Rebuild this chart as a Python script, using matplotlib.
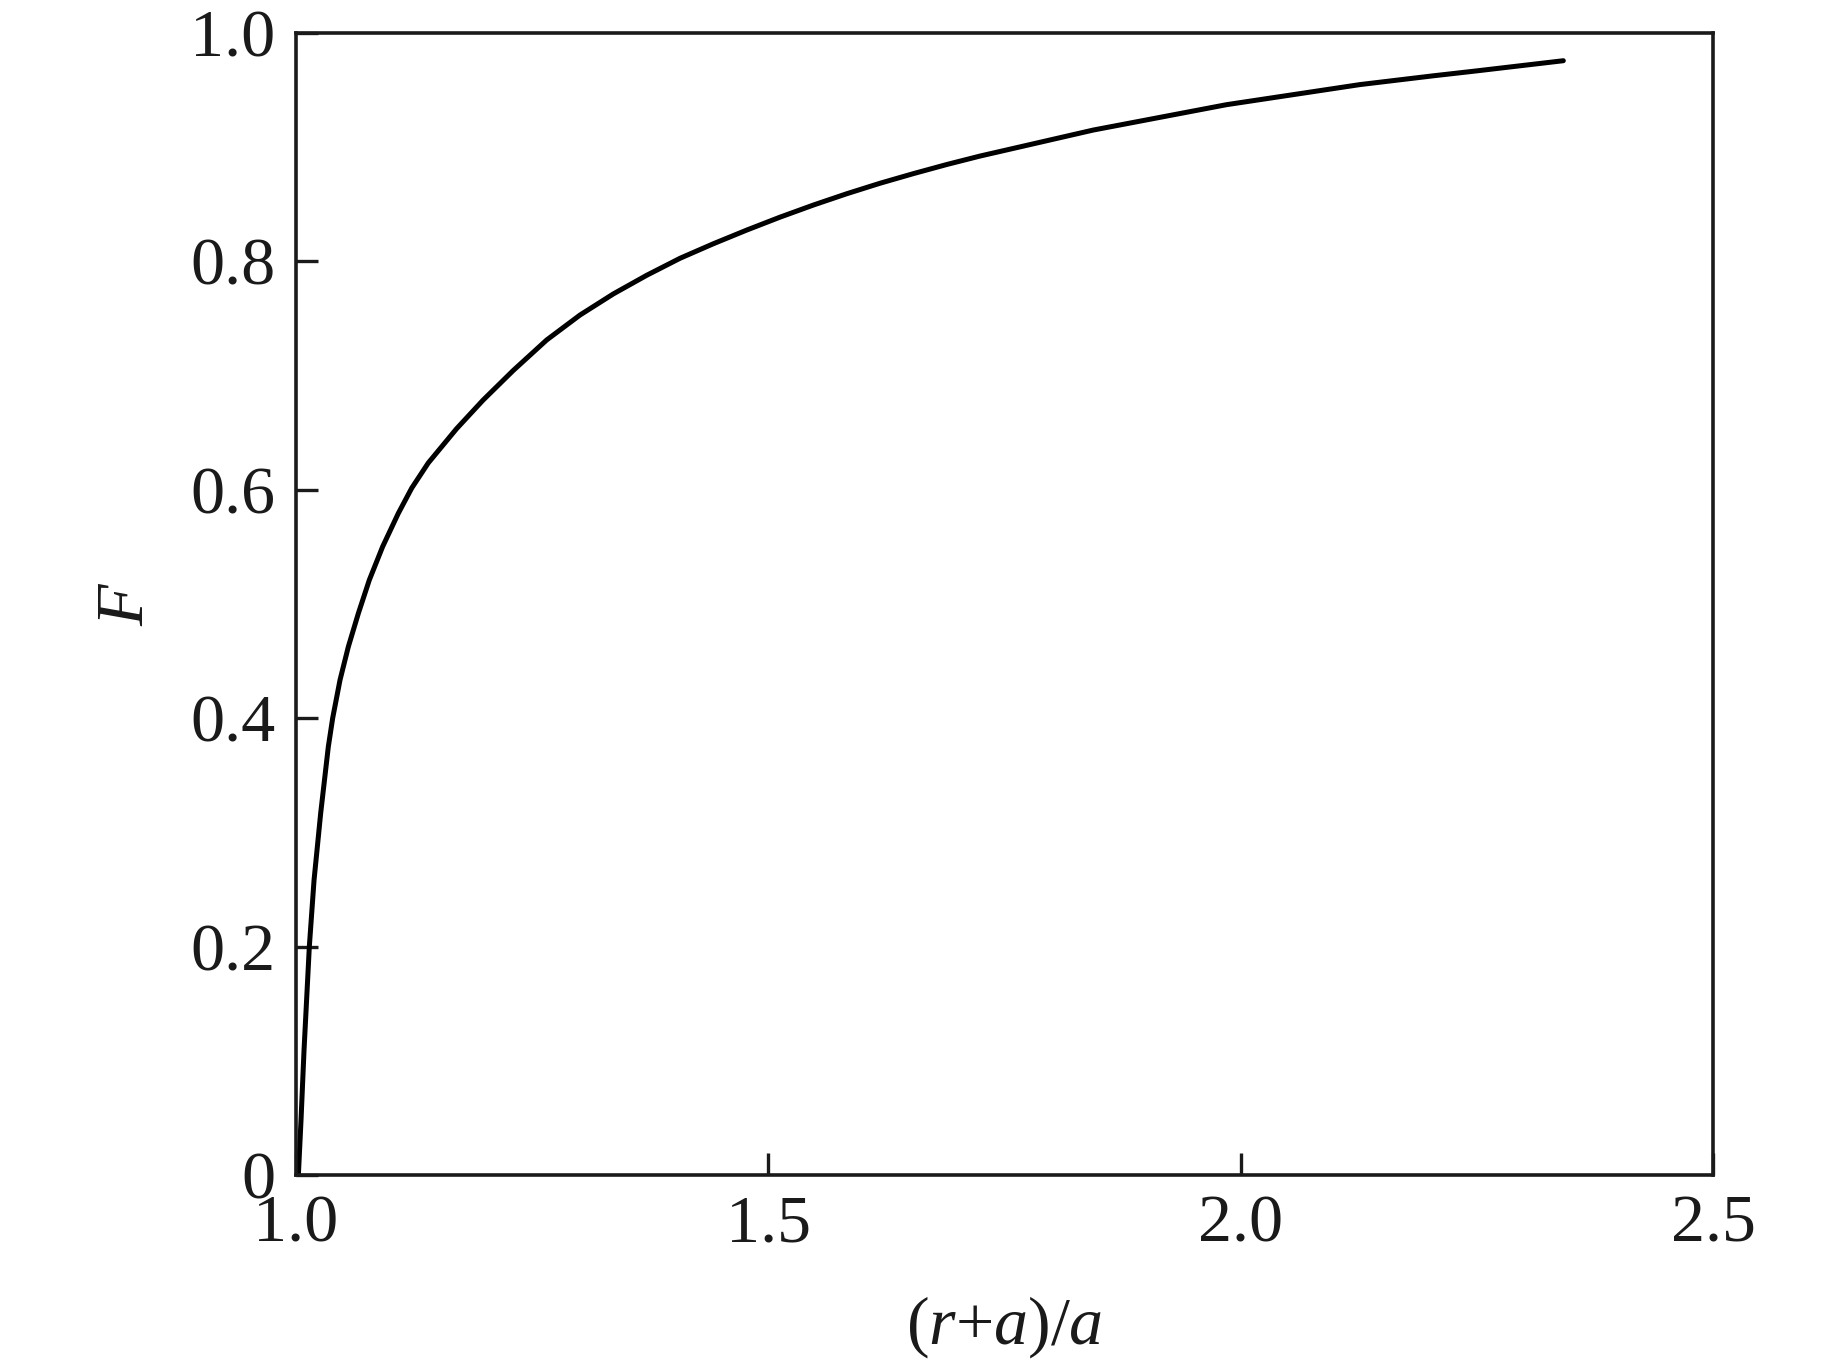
import numpy as np
import matplotlib
matplotlib.use("Agg")
import matplotlib.pyplot as plt

plt.rcParams['font.family'] = ['Liberation Serif', 'DejaVu Serif']
plt.rcParams['mathtext.fontset'] = 'custom'
plt.rcParams['mathtext.rm'] = 'Liberation Serif'
plt.rcParams['mathtext.it'] = 'Liberation Serif:italic'

# values, (r+a)/a against F
ratio = [1.0025, 1.0053, 1.0085, 1.0141, 1.0191, 1.0261, 1.0342, 1.0388,
         1.0466, 1.0554, 1.066, 1.0776, 1.0917, 1.1083, 1.1225, 1.140,
         1.170, 1.198, 1.230, 1.2654, 1.3006, 1.3359, 1.3712, 1.4065,
         1.4417, 1.4771, 1.5123, 1.5476, 1.5829, 1.6182, 1.6534, 1.6888,
         1.724, 1.844, 1.985, 2.1263, 2.204, 2.2498, 2.3415]
F = [0.0, 0.048, 0.1095, 0.2, 0.2583, 0.3167, 0.375, 0.4,
     0.4335, 0.4626, 0.4918, 0.521, 0.5502, 0.5794, 0.6015, 0.6235,
     0.6535, 0.6785, 0.7045, 0.7312, 0.7530, 0.7715, 0.7878, 0.8027,
     0.8154, 0.8274, 0.8387, 0.8493, 0.8592, 0.8684, 0.8768, 0.8848,
     0.8922, 0.9150, 0.9372, 0.9548, 0.9625, 0.9668, 0.9757]

xticks = [1.0, 1.5, 2.0, 2.5]
xtick_labels = ['1.0', '1.5', '2.0', '2.5']
yticks = [0, 0.2, 0.4, 0.6, 0.8, 1.0]
ytick_labels = ['0', '0.2', '0.4', '0.6', '0.8', '1.0']

fig = plt.figure(figsize=(18.42, 13.62), dpi=100)
ax = fig.add_axes([0.1607, 0.1373, 0.930 - 0.1607, 0.9758 - 0.1373])

ax.plot(ratio, F, color='black', lw=3.6, solid_capstyle='round',
        solid_joinstyle='round')

ax.set_xlim(1.0, 2.5)
ax.set_ylim(0, 1.0)
ax.set_xticks(xticks)
ax.set_xticklabels(xtick_labels)
ax.set_yticks(yticks)
ax.set_yticklabels(ytick_labels)
ax.tick_params(direction='in', length=16, width=2.4, labelsize=49,
               color='#1a1a1a', labelcolor='#1a1a1a')
ax.tick_params(axis='x', pad=14)
ax.tick_params(axis='y', pad=15)

for s in ax.spines.values():
    s.set_linewidth(2.6)
    s.set_color('#1a1a1a')

ax.set_xlabel('($r$+$a$)/$a$', fontsize=49, labelpad=28, color='#1a1a1a')
ax.set_ylabel('$F$', fontsize=49, labelpad=24, color='#1a1a1a')

fig.savefig('out.png', dpi=100)
